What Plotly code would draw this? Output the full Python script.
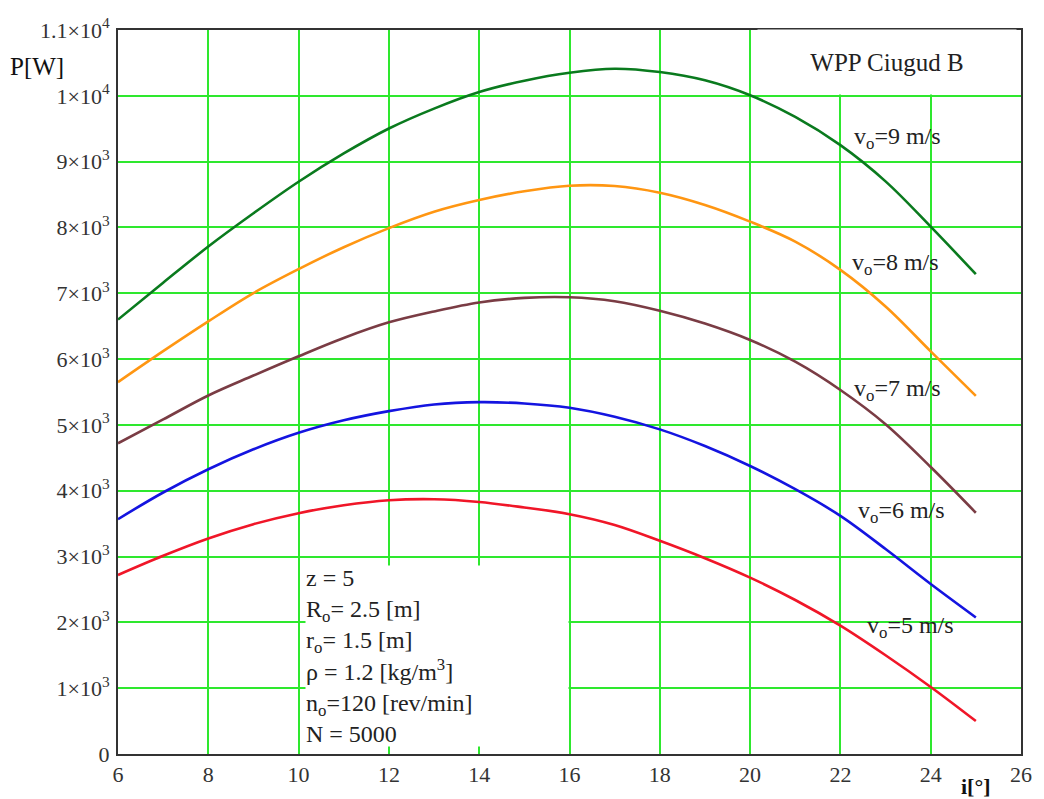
import plotly.graph_objects as go

# Blade incidence angle i [deg]
incidence = [6, 7, 8, 9, 10, 11, 12, 13, 14, 15, 16, 17, 18, 19, 20, 21, 22, 23, 24, 25]

# Power P [W] for each wind speed v0
p_v9 = [6600, 7160, 7710, 8215, 8694, 9124, 9503, 9806, 10058, 10230,
        10351, 10412, 10361, 10235, 10008, 9679, 9250, 8700, 8012, 7290]
p_v8 = [5650, 6120, 6573, 7003, 7367, 7700, 7990, 8239, 8417, 8550,
        8634, 8629, 8527, 8341, 8088, 7785, 7356, 6800, 6118, 5440]
p_v7 = [4720, 5083, 5447, 5750, 6043, 6321, 6558, 6724, 6860, 6930,
        6940, 6880, 6735, 6540, 6290, 5960, 5530, 5010, 4360, 3665]
p_v6 = [3568, 3973, 4326, 4629, 4880, 5070, 5209, 5311, 5346, 5326,
        5261, 5124, 4932, 4679, 4376, 4023, 3618, 3114, 2583, 2075]
p_v5 = [2720, 3012, 3275, 3492, 3659, 3780, 3856, 3871, 3830, 3745,
        3644, 3480, 3240, 2975, 2680, 2340, 1950, 1500, 1018, 500]

y_tick_vals = [0, 1000, 2000, 3000, 4000, 5000, 6000, 7000, 8000, 9000, 10000, 11000]
y_tick_text = ["0", "1×10<sup>3</sup>", "2×10<sup>3</sup>", "3×10<sup>3</sup>",
               "4×10<sup>3</sup>", "5×10<sup>3</sup>", "6×10<sup>3</sup>",
               "7×10<sup>3</sup>", "8×10<sup>3</sup>", "9×10<sup>3</sup>",
               "1×10<sup>4</sup>", "1.1×10<sup>4</sup>"]
x_tick_vals = [6, 8, 10, 12, 14, 16, 18, 20, 22, 24, 26]

series = [
    (p_v9, "#0a7a1e", "v<sub>o</sub>=9 m/s", 902, 138),
    (p_v8, "#ff9612", "v<sub>o</sub>=8 m/s", 900, 264),
    (p_v7, "#7a3c44", "v<sub>o</sub>=7 m/s", 902, 390),
    (p_v6, "#1414e0", "v<sub>o</sub>=6 m/s", 906, 513),
    (p_v5, "#f01628", "v<sub>o</sub>=5 m/s", 915, 628),
]

SERIF = "Liberation Serif"
W, H = 1044, 799
L, R, T, B = 118, 18, 30, 44

fig = go.Figure()
for vals, color, label, _, _ in series:
    fig.add_trace(go.Scatter(
        x=incidence, y=vals, mode="lines", name=label,
        line=dict(color=color, width=2.6, shape="spline", smoothing=1.0),
        hoverinfo="x+y",
    ))


def px_to_paper_x(px):
    return (px - L) / (W - L - R)


def px_to_paper_y(py):
    return 1 - (py - T) / (H - T - B)


annotations = []
for _, _, label, lx, ly in series:
    annotations.append(dict(
        x=px_to_paper_x(lx), y=px_to_paper_y(ly), xref="paper", yref="paper",
        text=label, showarrow=False, xanchor="center", yanchor="middle",
        font=dict(family=SERIF, size=24, color="#222222"),
    ))

# Title box in the upper right corner
annotations.append(dict(
    x=px_to_paper_x(891), y=px_to_paper_y(62), xref="paper", yref="paper",
    text="WPP Ciugud B", showarrow=False, xanchor="center", yanchor="middle",
    width=256, height=62, bgcolor="white",
    font=dict(family=SERIF, size=25, color="#222222"),
))

# Parameter block
params = "<br>".join([
    "z = 5",
    "R<sub>o</sub>= 2.5 [m]",
    "r<sub>o</sub>= 1.5 [m]",
    "ρ = 1.2 [kg/m<sup>3</sup>]",
    "n<sub>o</sub>=120 [rev/min]",
    "N = 5000",
])
annotations.append(dict(
    x=px_to_paper_x(306), y=px_to_paper_y(566), xref="paper", yref="paper",
    text=params, showarrow=False, xanchor="left", yanchor="top",
    width=262, height=180, align="left", valign="middle", bgcolor="white",
    borderpad=0,
    font=dict(family=SERIF, size=24, color="#222222"),
))

# Axis titles, placed outside the plotting area
annotations.append(dict(
    x=px_to_paper_x(37), y=px_to_paper_y(67), xref="paper", yref="paper",
    text="P[W]", showarrow=False, xanchor="center", yanchor="middle",
    font=dict(family=SERIF, size=25, color="#111111"),
))
annotations.append(dict(
    x=px_to_paper_x(981), y=px_to_paper_y(788), xref="paper", yref="paper",
    text="<b>i[°]</b>", showarrow=False, xanchor="center", yanchor="middle",
    font=dict(family=SERIF, size=22, color="#111111"),
))

fig.update_layout(
    width=W, height=H,
    margin=dict(l=L, r=R, t=T, b=B),
    paper_bgcolor="white", plot_bgcolor="white",
    showlegend=False,
    annotations=annotations,
    xaxis=dict(
        range=[6, 26], tickvals=x_tick_vals, ticks="",
        showgrid=True, gridcolor="#2ee82e", gridwidth=2,
        showline=True, linecolor="#333333", linewidth=2, mirror=True,
        zeroline=False,
        tickfont=dict(family=SERIF, size=22, color="#333333"),
    ),
    yaxis=dict(
        range=[0, 11000], tickvals=y_tick_vals, ticktext=y_tick_text, ticks="",
        showgrid=True, gridcolor="#2ee82e", gridwidth=2,
        showline=True, linecolor="#333333", linewidth=2, mirror=True,
        zeroline=False, ticklabelstandoff=2,
        tickfont=dict(family=SERIF, size=22, color="#333333"),
    ),
)

fig.write_html("out.html")
